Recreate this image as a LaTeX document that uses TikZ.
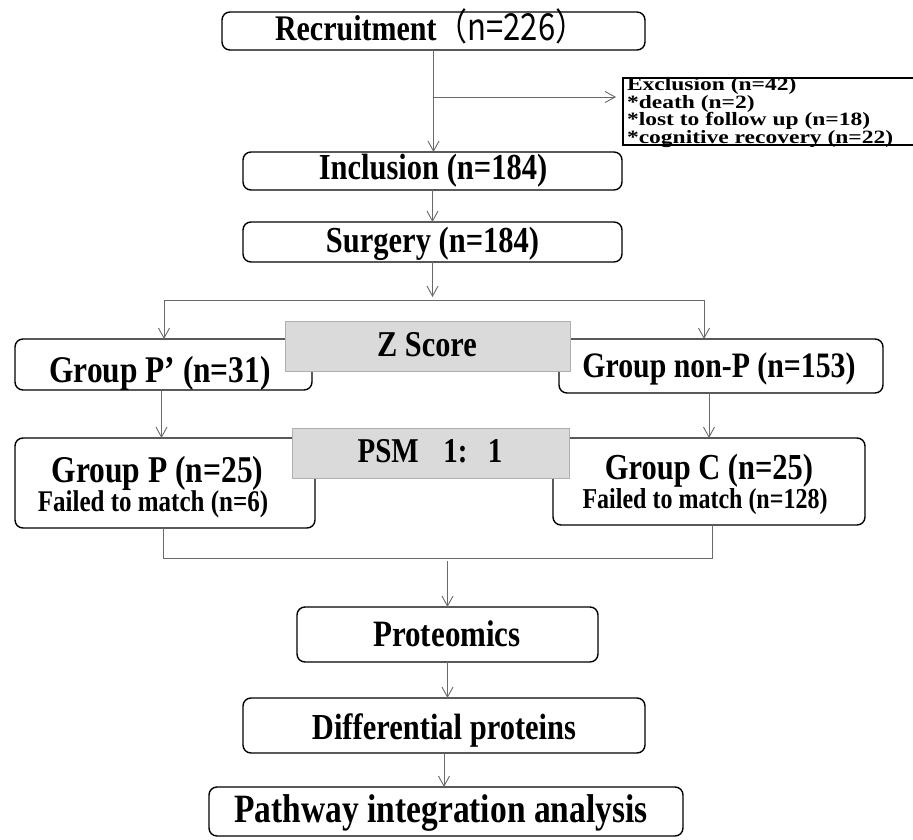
\documentclass[tikz,border=0pt]{standalone}
\usepackage{fontspec}
\setmainfont{Liberation Serif}
\newfontfamily\cjk{Noto Sans CJK SC}
\usepackage{graphicx}
\usetikzlibrary{arrows.meta}
\newcommand\fsz[1]{\fontsize{#1}{#1}\selectfont}
\newcommand\vst[1]{\scalebox{1}[1.2]{#1}}
\newcommand\vsm[1]{\scalebox{1}[0.8]{#1}}
\definecolor{zfill}{RGB}{218,218,218}
\definecolor{zline}{RGB}{175,175,175}
\definecolor{conncol}{RGB}{105,105,105}
\begin{document}
\begin{tikzpicture}[x=1pt,y=-1pt,
  box/.style={draw=black, line width=1.4pt, rounded corners=8pt, inner sep=0pt, outer sep=0pt, fill=white},
  gbox/.style={draw=zline, fill=zfill, line width=1pt, inner sep=0pt, outer sep=0pt},
  sqbox/.style={draw=black, line width=1.2pt, inner sep=0pt, outer sep=0pt},
  lbl/.style={inner sep=0pt, outer sep=0pt, anchor=base, font=\bfseries\fsz{30.5}},
  small/.style={inner sep=0pt, outer sep=0pt, anchor=base west, font=\bfseries\fsz{23.5}},
  conn/.style={draw=conncol, line width=0.9pt},
  arr/.style={conn, -{Straight Barb[length=10pt,width=11pt,line width=0.9pt]}},
]
\useasboundingbox (0,0) rectangle (913,840);
\fill[white] (0,0) rectangle (913,840);

% boxes
\node[box, minimum width=423pt, minimum height=38pt] (rec) at (433.5,31) {};
\node[sqbox, minimum width=293pt, minimum height=67pt] (excl) at (769.5,111.5) {};
\node[box, minimum width=379pt, minimum height=38pt] (incl) at (432.5,171) {};
\node[box, minimum width=379pt, minimum height=40pt] (surg) at (432.5,242) {};
\node[box, minimum width=297pt, minimum height=51pt] (pp) at (163.5,364.5) {};
\node[box, minimum width=324pt, minimum height=54pt] (np) at (721,366) {};
\node[box, minimum width=300pt, minimum height=90pt] (gp) at (165,483) {};
\node[box, minimum width=312pt, minimum height=87pt] (gc) at (709,481.5) {};
\node[gbox, minimum width=285pt, minimum height=50pt] (zs) at (427.5,346) {};
\node[gbox, minimum width=277pt, minimum height=50pt] (psm) at (430.5,453) {};
\node[box, minimum width=301pt, minimum height=55pt] (prot) at (447.5,634.5) {};
\node[box, minimum width=402pt, minimum height=55pt] (diff) at (444,725.5) {};
\node[box, minimum width=474pt, minimum height=49pt] (path) at (446,811.5) {};

% connectors
\coordinate (brk) at (433.5,97);
\draw[arr] (rec.south) -- (rec.south |- incl.north);
\draw[arr, shorten >=7pt] (brk) -- (brk -| excl.west);
\draw[arr] (incl.south) -- (surg.north);
\coordinate (bl) at (164,300);
\coordinate (br) at (704,300);
\draw[arr] (surg.south) -- ([yshift=3pt]surg.south |- bl);
\draw[conn] (bl) -- (br);
\draw[arr] (bl) -- (bl |- pp.north);
\draw[arr] (br) -- (br |- np.north);
\draw[arr] ([xshift=-2pt]pp.south) -- ([xshift=-2pt]pp.south |- gp.north);
\draw[arr] (np.south -| gc.north) -- (gc.north);
\coordinate (ml) at (447.5,558);
\draw[conn] ([xshift=-2pt]gp.south) -- ([xshift=-2pt]gp.south |- ml) -- ([xshift=3pt]gc.south |- ml) -- ([xshift=3pt]gc.south);
\draw[arr] ([yshift=-3pt]ml) -- (prot.north);
\draw[arr] (prot.south) -- (prot.south |- diff.north);
\draw[arr] (diff.south) -- (diff.south |- path.north);

% texts
\node[lbl, anchor=base west, font=\bfseries\fsz{30}] (trec) at (275,41) {\vst{Recruitment{\cjk\mdseries\fsz{31}（n=226）}}};
\node[small] (ex1) at (627,91) {\vsm{Exclusion (n=42)}};
\node[small] (ex2) at (627,108.5) {\vsm{*death (n=2)}};
\node[small] (ex3) at (627,126) {\vsm{*lost to follow up (n=18)}};
\node[small] (ex4) at (627,143.5) {\vsm{*cognitive recovery (n=22)}};
\node[lbl] (tincl) at (433,179) {\vst{Inclusion (n=184)}};
\node[lbl] (tsurg) at (432.5,252) {\vst{Surgery (n=184)}};
\node[lbl, font=\bfseries\fsz{30.3}] (tzs) at (427,356) {\vst{Z Score}};
\node[lbl, font=\bfseries\fsz{31.4}] (tpp) at (160,382) {\vst{Group P’ (n=31)}};
\node[lbl, font=\bfseries\fsz{29.8}] (tnp) at (719,377) {\vst{Group non-P (n=153)}};
\node[lbl, font=\bfseries\fsz{31.5}] (tgp1) at (157.5,482) {\vst{Group P (n=25)}};
\node[lbl, font=\bfseries\fsz{25}] (tgp2) at (153,511) {\vst{Failed to match (n=6)}};
\node[lbl, font=\bfseries\fsz{30.5}] (tgc1) at (709,479) {\vst{Group C (n=25)}};
\node[lbl, font=\bfseries\fsz{24}] (tgc2) at (705,508) {\vst{Failed to match (n=128)}};
\node[lbl, font=\bfseries\fsz{29}] (tpsm) at (430,462) {\vst{PSM\hspace{0.85em}1:\hspace{0.7em}1}};
\node[lbl, font=\bfseries\fsz{31}] (tprot) at (447,646) {\vst{Proteomics}};
\node[lbl, font=\bfseries\fsz{30.5}] (tdiff) at (444,739) {\vst{Differential proteins}};
\node[lbl, font=\bfseries\fsz{33.5}] (tpath) at (441,822) {\vst{Pathway integration analysis}};
\end{tikzpicture}
\end{document}
